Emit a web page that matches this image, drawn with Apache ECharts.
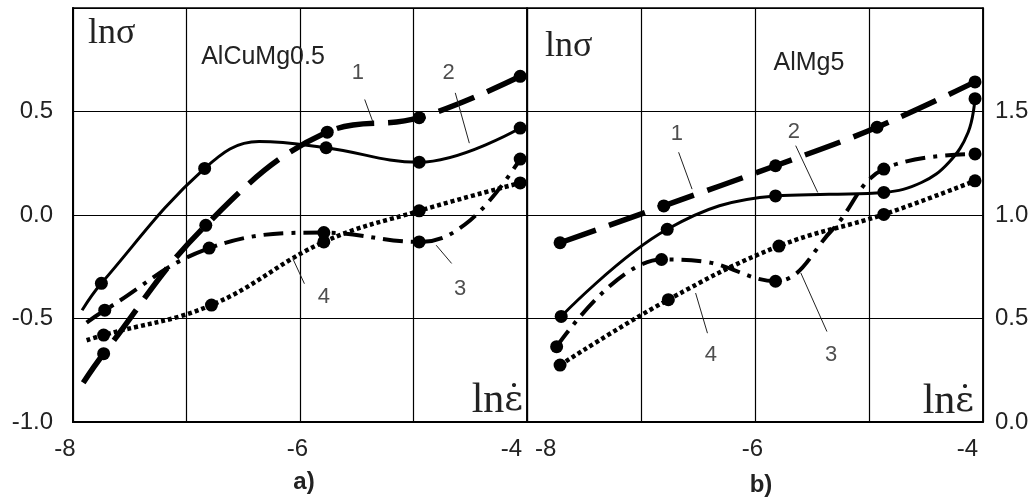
<!DOCTYPE html>
<html><head><meta charset="utf-8">
<script src="https://cdn.jsdelivr.net/npm/echarts@6/dist/echarts.min.js"></script>
<style>html,body{margin:0;padding:0;background:#fff}#c{width:1034px;height:504px}</style>
</head><body><div id="c"></div>
<script>
// ---- tick labels ----
const xTickLabels = [-8, -6, -4];
const yTickLabelsA = [-1.0, -0.5, 0.0, 0.5];
const yTickLabelsB = [0.0, 0.5, 1.0, 1.5];
const panelTitles = ['AlCuMg0.5', 'AlMg5'];
const panelTags = ['a)', 'b)'];

// ---- panel a) AlCuMg0.5 : curve paths and measured points [ln(strain rate), ln(sigma)] ----
const a1Line  = [[-7.91,-0.81],[-7.73,-0.67],[-6.83,-0.05],[-5.76,0.40],[-4.95,0.47],[-4.06,0.67]];
const a1Marks = [[-7.73,-0.67],[-6.83,-0.05],[-5.76,0.40],[-4.95,0.47],[-4.06,0.67]];
const a2Line  = [[-7.92,-0.46],[-7.75,-0.33],[-6.84,0.225],[-6.36,0.355],[-5.77,0.325],[-4.95,0.255],[-4.06,0.42]];
const a2Marks = [[-7.75,-0.33],[-6.84,0.225],[-5.77,0.325],[-4.95,0.255],[-4.06,0.42]];
const a3Line  = [[-7.88,-0.52],[-7.72,-0.46],[-6.80,-0.16],[-5.79,-0.085],[-4.95,-0.13],[-4.50,-0.025],[-4.06,0.27]];
const a3Marks = [[-7.72,-0.46],[-6.80,-0.16],[-5.79,-0.085],[-4.95,-0.13],[-4.06,0.27]];
const a4Line  = [[-7.88,-0.605],[-7.73,-0.58],[-6.78,-0.435],[-5.79,-0.13],[-4.95,0.02],[-4.06,0.155]];
const a4Marks = [[-7.73,-0.58],[-6.78,-0.435],[-5.79,-0.13],[-4.95,0.02],[-4.06,0.155]];
const aNumbers = [[-5.49,0.684,'1'],[-4.69,0.684,'2'],[-4.59,-0.356,'3'],[-5.79,-0.397,'4']];
const aLeaders = [[[-5.43,0.558],[-5.36,0.453]],[[-4.632,0.59],[-4.508,0.347]],[[-4.664,-0.234],[-4.80,-0.146]],[[-5.961,-0.332],[-6.064,-0.21]]];

// ---- panel b) AlMg5 ----
const b1Line  = [[-7.71,0.866],[-6.80,1.044],[-5.82,1.238],[-4.93,1.424],[-4.07,1.643]];
const b1Marks = [[-7.71,0.866],[-6.80,1.044],[-5.82,1.238],[-4.93,1.424],[-4.07,1.643]];
const b2Line  = [[-7.70,0.51],[-6.77,0.931],[-5.82,1.092],[-5.35,1.10],[-4.87,1.109],[-4.54,1.157],[-4.30,1.254],[-4.13,1.40],[-4.07,1.562]];
const b2Marks = [[-7.70,0.51],[-6.77,0.931],[-5.82,1.092],[-4.87,1.109],[-4.07,1.562]];
const b3Line  = [[-7.74,0.364],[-6.82,0.785],[-6.45,0.775],[-5.82,0.68],[-5.32,0.93],[-4.87,1.222],[-4.07,1.295]];
const b3Marks = [[-7.74,0.364],[-6.82,0.785],[-5.82,0.68],[-4.87,1.222],[-4.07,1.295]];
const b4Line  = [[-7.71,0.275],[-6.76,0.591],[-5.79,0.85],[-4.87,1.003],[-4.07,1.165]];
const b4Marks = [[-7.71,0.275],[-6.76,0.591],[-5.79,0.85],[-4.87,1.003],[-4.07,1.165]];
const bNumbers = [[-6.685,1.392,'1'],[-5.658,1.40,'2'],[-5.332,0.324,'3'],[-6.387,0.324,'4']];
const bLeaders = [[[-6.67,1.303],[-6.552,1.125]],[[-5.643,1.335],[-5.45,1.109]],[[-5.369,0.437],[-5.598,0.72]],[[-6.417,0.429],[-6.521,0.623]]];

// ---- styles ----
const INK = '#000';
const curveStyles = [
  {width: 5.5, type: [38, 14]},
  {width: 3, type: 'solid'},
  {width: 4, type: [20, 8, 4, 8]},
  {width: 4.5, type: [4, 3]}
];
const SANS = '"Liberation Sans", Arial, sans-serif';
const SERIF = '"Liberation Serif", "Times New Roman", serif';

function lineS(g, data, k) {
  return {type: 'line', xAxisIndex: g, yAxisIndex: g, data: data, smooth: 0.4,
    showSymbol: false, symbol: 'none', silent: true, z: 3,
    lineStyle: {color: INK, width: curveStyles[k].width, type: curveStyles[k].type, cap: 'butt', opacity: 1}};
}
function markS(g, data) {
  return {type: 'scatter', xAxisIndex: g, yAxisIndex: g, data: data, symbol: 'circle',
    symbolSize: 13, itemStyle: {color: INK, opacity: 1, borderWidth: 0}, silent: true, z: 4};
}
function leaderS(g, seg) {
  return {type: 'line', xAxisIndex: g, yAxisIndex: g, data: seg, showSymbol: false, symbol: 'none',
    silent: true, z: 3, lineStyle: {color: '#222', width: 1}};
}
function numS(g, data) {
  return {type: 'scatter', xAxisIndex: g, yAxisIndex: g, data: data, symbolSize: 1,
    itemStyle: {color: 'rgba(0,0,0,0)'}, silent: true, z: 5,
    label: {show: true, position: 'inside', formatter: p => p.value[2],
      fontFamily: SANS, fontSize: 22, color: '#222'}};
}

const series = [];
[[a1Line,a1Marks],[a2Line,a2Marks],[a3Line,a3Marks],[a4Line,a4Marks]].forEach((c, k) => {
  series.push(lineS(0, c[0], k)); series.push(markS(0, c[1]));
});
[[b1Line,b1Marks],[b2Line,b2Marks],[b3Line,b3Marks],[b4Line,b4Marks]].forEach((c, k) => {
  series.push(lineS(1, c[0], k)); series.push(markS(1, c[1]));
});
aLeaders.forEach(s => series.push(leaderS(0, s)));
bLeaders.forEach(s => series.push(leaderS(1, s)));
series.push(numS(0, aNumbers));
series.push(numS(1, bNumbers));

function xAxis(g) {
  return {type: 'value', gridIndex: g, min: -8, max: -4, interval: 1,
    axisLine: {show: true, onZero: false, lineStyle: {color: INK, width: 2}},
    axisTick: {show: false},
    splitLine: {show: true, lineStyle: {color: INK, width: 1.2}},
    axisLabel: {margin: 15, fontFamily: SANS, fontSize: 24, color: '#222',
      alignMinLabel: g === 1 ? 'left' : 'center', alignMaxLabel: 'right',
      formatter: v => {
        if (!xTickLabels.includes(v)) return '';
        if (v === -4) return '{e|' + v + '}';
        if (v === -8) return (g === 0 ? '{m|' : '{s|') + v + '}';
        return '{c|' + v + '}';
      },
      rich: {
        e: {fontFamily: SANS, fontSize: 24, color: '#222', padding: [0, 5, 0, 0]},
        s: {fontFamily: SANS, fontSize: 24, color: '#222', padding: [0, 0, 0, 8]},
        m: {fontFamily: SANS, fontSize: 24, color: '#222', padding: [0, 16, 0, 0]},
        c: {fontFamily: SANS, fontSize: 24, color: '#222', padding: [0, 5, 0, 0]}
      }}};
}
function yAxis(g, lo, hi, labels) {
  return {type: 'value', gridIndex: g, min: lo, max: hi, interval: 0.5,
    position: g === 0 ? 'left' : 'right',
    axisLine: {show: true, onZero: false, lineStyle: {color: INK, width: g === 0 ? 2 : 1.5}},
    axisTick: {show: false},
    splitLine: {show: true, lineStyle: {color: INK, width: 1.2}},
    axisLabel: {margin: g === 0 ? 20 : 12, fontFamily: SANS, fontSize: 24, color: '#222',
      padding: g === 0 ? [0, 0, 11, 0] : [0, 0, 8, 0],
      formatter: v => labels.some(t => Math.abs(t - v) < 1e-9) ? v.toFixed(1) : ''}};
}

function txt(x, y, text, font, align) {
  return {type: 'text', x: x, y: y, z: 10, silent: true,
    style: {text: text, font: font, fill: '#222', align: align, verticalAlign: 'middle',
      textAlign: align, textVerticalAlign: 'middle'}};
}
function rateLabel(x, y) {
  return {type: 'text', x: x, y: y, z: 10, silent: true,
    style: {text: '{a|ln}{b|\u03B5\u0307}', align: 'right', verticalAlign: 'middle',
      textAlign: 'right', textVerticalAlign: 'middle', fill: '#222',
      rich: {a: {fontFamily: SERIF, fontSize: 42, fill: '#222', color: '#222'},
             b: {fontFamily: '"DejaVu Serif", serif', fontSize: 36, fill: '#222', color: '#222'}}}};
}

const option = {
  animation: false,
  backgroundColor: '#fff',
  grid: [
    {left: 73, right: 507, top: 8, bottom: 82, show: true, borderColor: INK, borderWidth: 1.5, backgroundColor: 'transparent'},
    {left: 527, right: 51, top: 8, bottom: 82, show: true, borderColor: INK, borderWidth: 1.5, backgroundColor: 'transparent'}
  ],
  xAxis: [xAxis(0), xAxis(1)],
  yAxis: [yAxis(0, -1, 1, yTickLabelsA), yAxis(1, 0, 2, yTickLabelsB)],
  series: series,
  graphic: [
    txt(88, 34, 'ln\u03C3', '36px ' + SERIF, 'left'),
    txt(545, 47, 'ln\u03C3', '36px ' + SERIF, 'left'),
    txt(263, 57, panelTitles[0], '25px ' + SANS, 'center'),
    txt(809, 63, panelTitles[1], '25px ' + SANS, 'center'),
    rateLabel(523, 401),
    rateLabel(974, 402),
    txt(304, 482, panelTags[0], 'bold 24px ' + SANS, 'center'),
    txt(761, 485, panelTags[1], 'bold 24px ' + SANS, 'center')
  ]
};
const chart = echarts.init(document.getElementById('c'), null, {renderer: 'canvas'});
chart.setOption(option);
</script>
</body></html>
